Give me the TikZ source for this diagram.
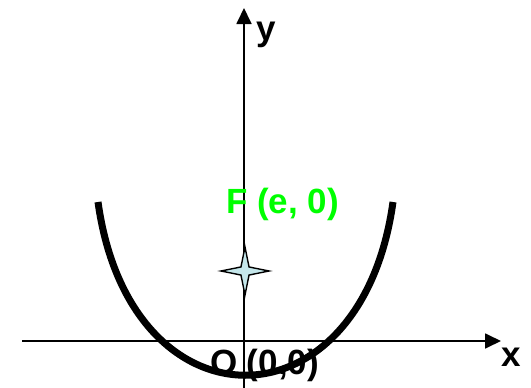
\documentclass[tikz,border=0pt]{standalone}
\usepackage{fontspec}
\setmainfont{Liberation Sans}
\usetikzlibrary{arrows.meta,shapes.geometric}

\begin{document}
\begin{tikzpicture}[x=1pt, y=-1pt,
  ax/.style={line width=1.8pt, -{Triangle[length=16pt,width=15pt]}},
  curve/.style={line width=7pt},
  lab/.style={font=\bfseries\fontsize{35}{35}\selectfont, inner sep=0pt},
  fourstar/.style={star, star points=4, star point ratio=4.2, draw, line width=1.4pt,
                   fill={rgb,255:red,196;green,230;blue,234}, minimum size=48pt, inner sep=0pt}]
\useasboundingbox (0,0) rectangle (531,388);
\coordinate (xs) at (22,341);
\coordinate (xe) at (501,341);
\coordinate (ys) at (244,388);
\coordinate (ye) at (244,8);
\coordinate (pl) at (98,202);
\coordinate (pr) at (393,202);
\draw[ax] (xs) -- (xe);
\draw[ax] (ys) -- (ye);
\draw[curve] (pl) .. controls (130,433) and (361,433) .. (pr);
\node[fourstar] (foc) at (245,271) {};
\node[lab, anchor=base west] (ly) at (256,40) {y};
\node[lab, anchor=base west] (lx) at (501,366) {x};
\node[lab, anchor=base, text={rgb,255:red,0;green,255;blue,0}] (lf) at (282.5,213) {F (e, 0)};
\node[lab, anchor=base] (lo) at (264.5,374) {O (0,0)};
\end{tikzpicture}
\end{document}
